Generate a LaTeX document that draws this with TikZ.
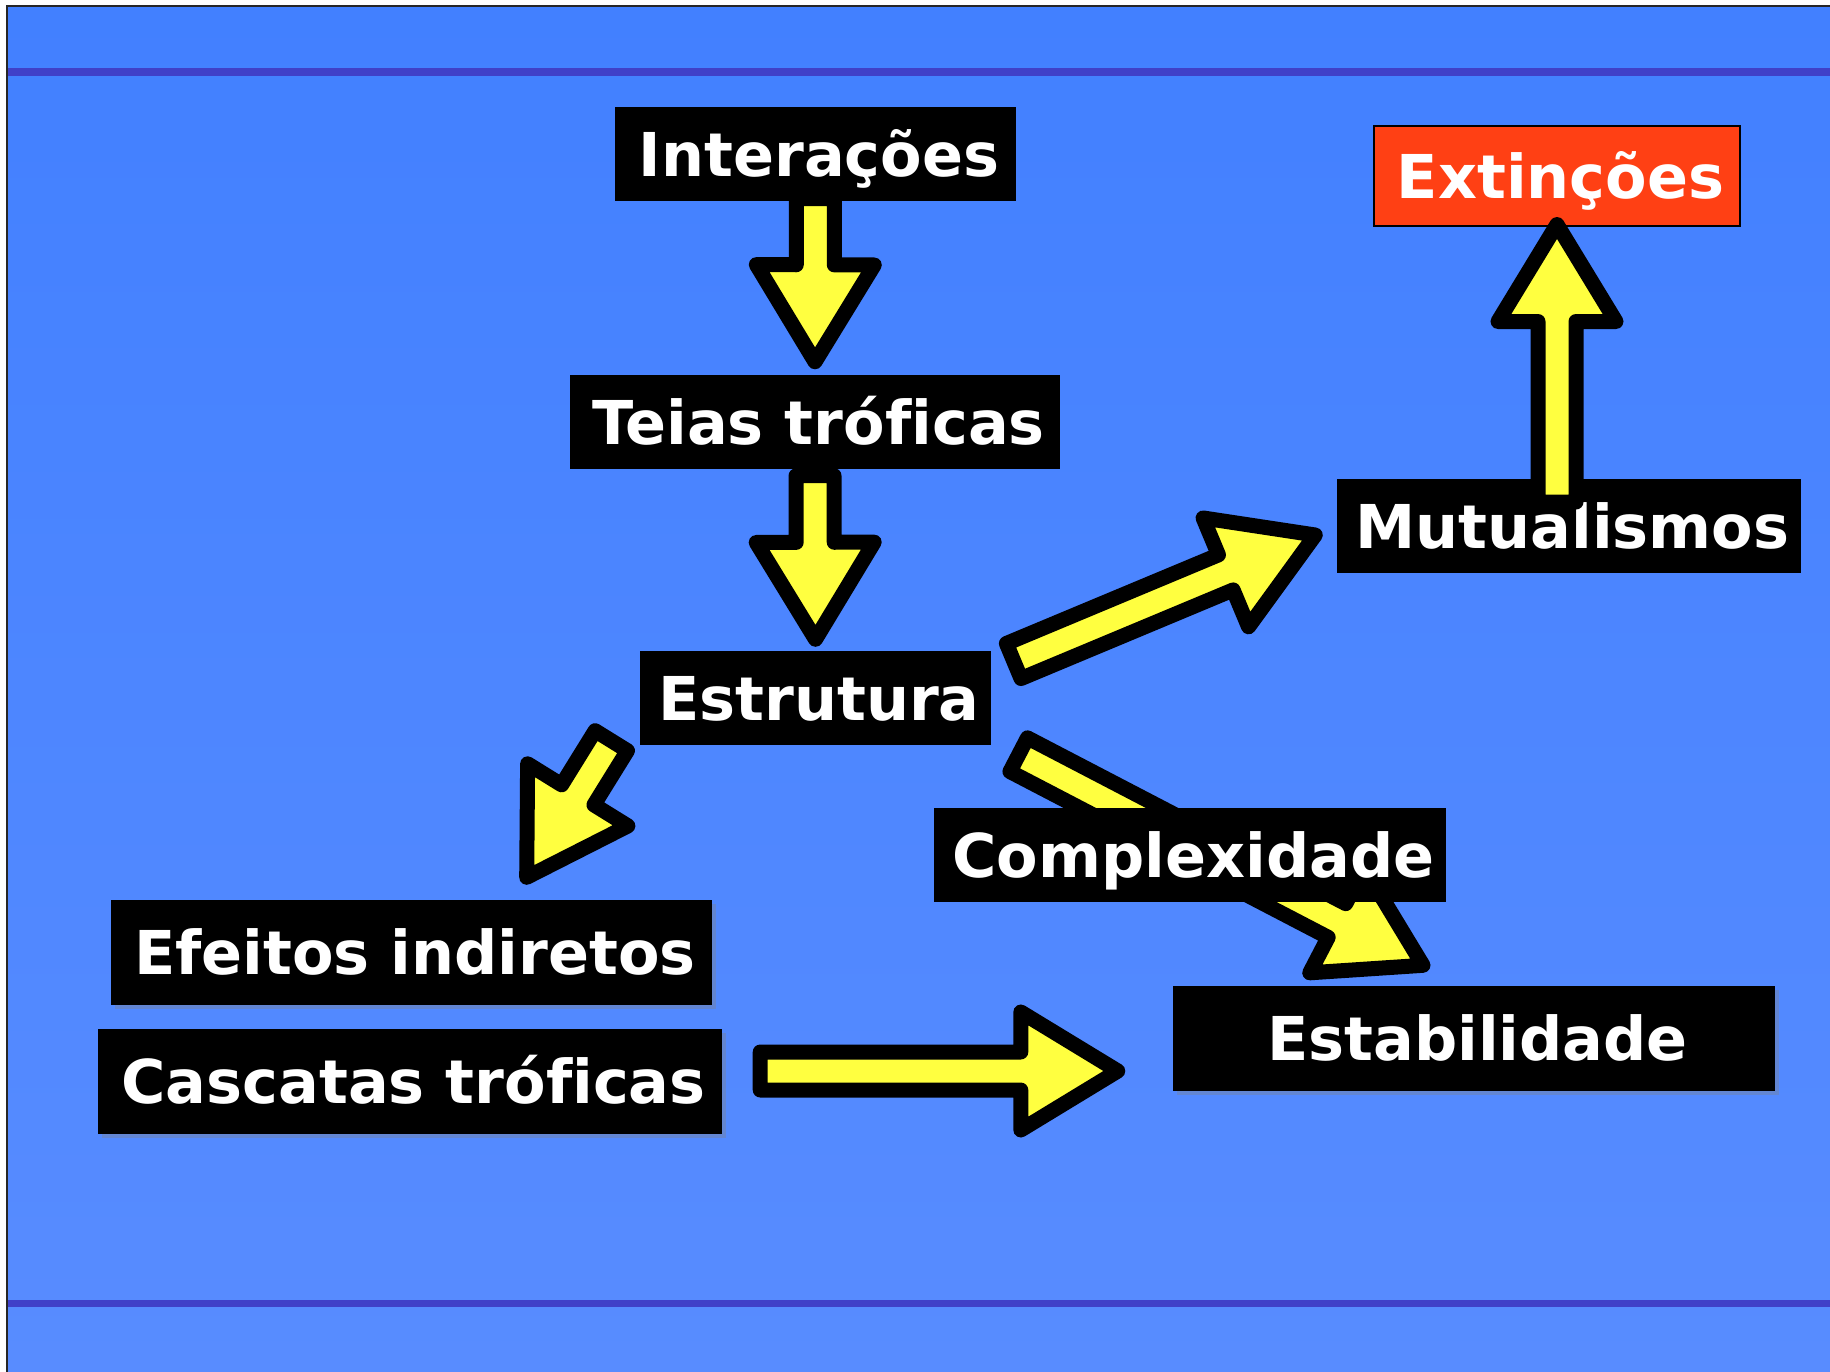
\documentclass[tikz,border=0pt]{standalone}
\usepackage{fontspec}
\setmainfont[Ligatures=NoCommon]{DejaVu Sans}
\usetikzlibrary{calc,shadows}
\definecolor{slide}{HTML}{4280FF}
\definecolor{slidelow}{HTML}{588CFF}
\definecolor{stripe}{HTML}{4040C8}
\definecolor{arrowfill}{HTML}{FFFF40}
\definecolor{alert}{HTML}{FF4014}
\pgfdeclarelayer{back}
\pgfdeclarelayer{under}
\pgfsetlayers{back,under,main}
\newcommand\boxfont{\fontsize{17.2pt}{21pt}\selectfont\bfseries}
% block arrow from tail #1 to tip #2
\newcommand\fatarrow[2]{%
  \coordinate (hb) at ($(#2)!9.7mm!(#1)$);
  \filldraw[fat] ($(#1)!1.9mm!90:(#2)$) -- ($(hb)!1.9mm!90:(#2)$) -- ($(hb)!5.9mm!90:(#2)$)
    -- (#2) -- ($(hb)!5.9mm!-90:(#2)$) -- ($(hb)!1.9mm!-90:(#2)$) -- ($(#1)!1.9mm!-90:(#2)$) -- cycle;}

\begin{document}
\begin{tikzpicture}[x=0.1mm, y=-0.1mm,
  box/.style={fill=black, text=white, font=\boxfont, inner sep=0pt, text height=4.4mm, text depth=0pt, minimum height=9.4mm, execute at begin node={\hspace{0.7mm}}},
  tall/.style={box, minimum height=10.5mm, drop shadow={shadow xshift=0.4mm, shadow yshift=-0.4mm, opacity=0.35}},
  fat/.style={fill=arrowfill, draw=black, line width=1.5mm, line join=round}
]
\useasboundingbox (0,0) rectangle (1830,1372);

\node[box, minimum width=40.1mm] (inter) at (815.5,154) {Interações};
\node[box, minimum width=49mm] (teias) at (815,422) {Teias tróficas};
\node[box, minimum width=35.1mm] (estr) at (815.5,698) {Estrutura};
\node[box, fill=alert, draw=black, line width=0.2mm, minimum width=36.6mm, minimum height=10mm] (ext) at (1557,176) {Extinções};
\node[box, minimum width=46.4mm] (mut) at (1569,526) {Mutualismos};
\node[box, minimum width=51.2mm] (compl) at (1190,855) {Complexidade};
\node[tall, minimum width=60.1mm] (efe) at (411.5,952.5) {Efeitos indiretos};
\node[tall, minimum width=62.4mm] (casc) at (410,1081.5) {Cascatas tróficas};
\node[tall, minimum width=60.2mm] (estab) at (1474,1038.5) {Estabilidade};

% slide background
\begin{pgfonlayer}{back}
  \fill[white] (0,0) rectangle (1830,1372);
  \shade[top color=slide, bottom color=slidelow] (7,6) rectangle (1830,1372);
  \fill[stripe] (7,68) rectangle (1830,76);
  \fill[stripe] (7,1300) rectangle (1830,1307);
  \draw[line width=0.2mm, black!85] (7,1372) -- (7,6) -- (1830,6);
\end{pgfonlayer}

% arrows behind the boxes
\begin{pgfonlayer}{under}
  \coordinate (s1) at ($(inter.south)+(0,-3)$);
  \coordinate (e1) at ($(teias.north)+(0,-12.5)$);
  \fatarrow{s1}{e1}
  \coordinate (s2) at ($(teias.south)+(0,6)$);
  \coordinate (e2) at ($(estr.north)+(0,-11)$);
  \fatarrow{s2}{e2}
  \coordinate (s4) at ($(estr.east)+(22,-37)$);
  \coordinate (e4) at ($(mut.west)+(-21,9)$);
  \fatarrow{s4}{e4}
  \coordinate (s5) at ($(estr.south west)+(-28,-5)$);
  \coordinate (e5) at ($(efe.north east)+(-186,-22)$);
  \fatarrow{s5}{e5}
  \coordinate (s6) at ($(estr.south east)+(27,9)$);
  \coordinate (e6) at ($(estab.north)+(-51,-20)$);
  \fatarrow{s6}{e6}
  \coordinate (s7) at ($(casc.east)+(37.5,-10.5)$);
  \coordinate (e7) at ($(estab.west)+(-54.5,32.5)$);
  \fatarrow{s7}{e7}
\end{pgfonlayer}

% this one lies over the boxes
\coordinate (s3) at ($(ext.south)+(0,275)$);
\coordinate (e3) at ($(ext.south)+(0,-2.5)$);
\fatarrow{s3}{e3}
\end{tikzpicture}
\end{document}
